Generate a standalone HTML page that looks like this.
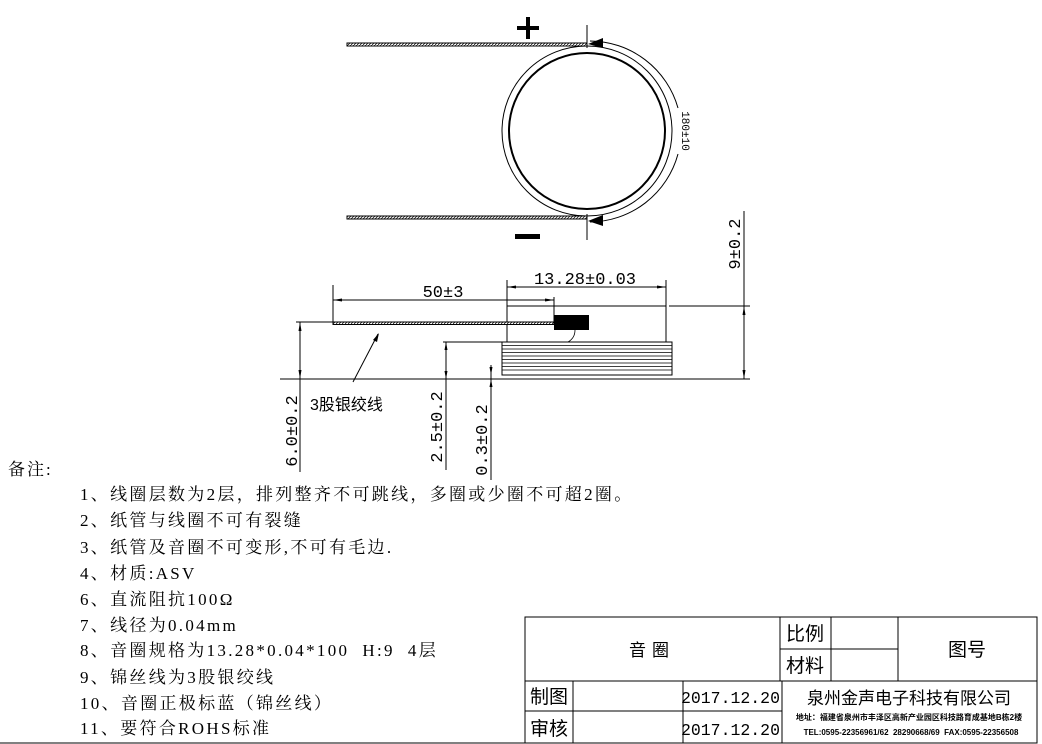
<!DOCTYPE html>
<html><head><meta charset="utf-8"><style>
html,body{margin:0;padding:0;background:#fff;}
svg{display:block;}
text{font-family:"Liberation Mono","Noto Serif CJK SC",monospace;fill:#000;}
.n{font-family:"Liberation Serif","Noto Serif CJK SC",serif;}
.s{font-family:"Liberation Sans","Noto Sans CJK SC",sans-serif;}
</style></head><body>
<svg width="1042" height="744" viewBox="0 0 1042 744" xmlns="http://www.w3.org/2000/svg">
<defs>
<pattern id="h" width="3" height="3" patternUnits="userSpaceOnUse"><rect width="3" height="3" fill="#fff"/><path d="M0 3L3 0" stroke="#000" stroke-width="0.7"/></pattern>
</defs>
<g stroke="#000" fill="none" stroke-width="1">
<rect x="347" y="43" width="240" height="3" fill="url(#h)"/>
<rect x="347" y="216" width="240" height="3" fill="url(#h)"/>
<line x1="587" y1="25" x2="587" y2="48"/>
<line x1="587" y1="214" x2="587" y2="240"/>
<circle cx="587" cy="131" r="85"/>
<circle cx="587" cy="131" r="78" stroke-width="2"/>
<path d="M590 41 A92 92 0 0 1 678 108"/>
<path d="M678 154 A92 92 0 0 1 590 222"/>
<line x1="333" y1="300" x2="554" y2="300"/>
<line x1="507" y1="287" x2="666" y2="287"/>
<line x1="333" y1="285" x2="333" y2="322"/>
<line x1="507" y1="280" x2="507" y2="342"/>
<line x1="666" y1="280" x2="666" y2="342"/>
<line x1="554" y1="297" x2="554" y2="322"/>
<line x1="507" y1="306" x2="666" y2="306"/>
<rect x="333" y="322" width="221" height="2.5" fill="url(#h)"/>
<rect x="502" y="342" width="170" height="33" fill="#fff"/>
<path d="M502 345.5H672M502 349H672M502 352.5H672M502 356H672M502 359.5H672M502 363H672M502 366.5H672M502 370H672" stroke-width="0.7"/>
<path d="M575 330 Q575 338 568 342" stroke-width="0.8"/>
<line x1="280" y1="379" x2="750" y2="379"/>
<line x1="669" y1="306" x2="750" y2="306"/>
<line x1="296" y1="322" x2="333" y2="322"/>
<line x1="744" y1="211" x2="744" y2="379"/>
<line x1="300" y1="322" x2="300" y2="472"/>
<line x1="443" y1="342" x2="502" y2="342"/>
<line x1="446" y1="342" x2="446" y2="470"/>
<line x1="491" y1="365" x2="491" y2="480"/>
<line x1="353" y1="382" x2="378" y2="334"/>
<rect x="525" y="617" width="512" height="126"/>
<line x1="525" y1="681" x2="1037" y2="681"/>
<line x1="525" y1="711" x2="782" y2="711"/>
<line x1="780" y1="617" x2="780" y2="681"/>
<line x1="831" y1="617" x2="831" y2="681"/>
<line x1="898" y1="617" x2="898" y2="681"/>
<line x1="780" y1="649" x2="898" y2="649"/>
<line x1="573" y1="681" x2="573" y2="743"/>
<line x1="683" y1="681" x2="683" y2="743"/>
<line x1="782" y1="681" x2="782" y2="743"/>
<line x1="0" y1="743" x2="525" y2="743"/>
</g>
<rect x="554" y="315" width="35" height="15" fill="#000"/>
<g fill="#000">
<rect x="517" y="26" width="22" height="4"/><rect x="526" y="17" width="4" height="22"/>
<rect x="515" y="234" width="25" height="5"/>
<path d="M588 44 L603 38 L603 48Z"/>
<path d="M588 221 L603 215 L603 226Z"/>
<path d="M333 300 L342 298.5 L342 301.5Z"/><path d="M554 300 L545 298.5 L545 301.5Z"/>
<path d="M507 287 L516 285.5 L516 288.5Z"/><path d="M666 287 L657 285.5 L657 288.5Z"/>
<path d="M744 306 L742.5 315 L745.5 315Z"/><path d="M744 379 L742.5 370 L745.5 370Z"/>
<path d="M300 322 L298.5 331 L301.5 331Z"/><path d="M300 379 L298.5 370 L301.5 370Z"/>
<path d="M446 342 L444.5 350 L447.5 350Z"/><path d="M446 379 L444.5 371 L447.5 371Z"/>
<path d="M491 375 L489.5 367 L492.5 367Z"/><path d="M491 379 L489.5 387 L492.5 387Z"/>
<path d="M379 333 L373 340 L377 342Z"/>
</g>
<text x="682" y="131" font-size="11" transform="rotate(90 682 131)" text-anchor="middle">180±10</text>
<text x="443" y="297" font-size="17" text-anchor="middle">50±3</text>
<text x="585" y="284" font-size="17" text-anchor="middle">13.28±0.03</text>
<text x="740" y="244" font-size="17" text-anchor="middle" transform="rotate(-90 740 244)">9±0.2</text>
<text x="297" y="431" font-size="17" text-anchor="middle" transform="rotate(-90 297 431)">6.0±0.2</text>
<text x="442" y="427" font-size="17" text-anchor="middle" transform="rotate(-90 442 427)">2.5±0.2</text>
<text x="487" y="440" font-size="17" text-anchor="middle" transform="rotate(-90 487 440)">0.3±0.2</text>
<text x="310" y="410" font-size="16" class="s">3股银绞线</text>
<text x="8" y="475" font-size="17" letter-spacing="2" class="n">备注:</text>
<g font-size="17" letter-spacing="2.3" class="n">
<text x="80" y="500" class="n">1、线圈层数为2层，排列整齐不可跳线，多圈或少圈不可超2圈。</text>
<text x="80" y="526" class="n">2、纸管与线圈不可有裂缝</text>
<text x="80" y="553" class="n">3、纸管及音圈不可变形,不可有毛边.</text>
<text x="80" y="579" class="n">4、材质:ASV</text>
<text x="80" y="605" class="n">6、直流阻抗100Ω</text>
<text x="80" y="631" class="n">7、线径为0.04mm</text>
<text x="80" y="656" class="n" xml:space="preserve">8、音圈规格为13.28*0.04*100  H:9  4层</text>
<text x="80" y="683" class="n">9、锦丝线为3股银绞线</text>
<text x="80" y="709" class="n">10、音圈正极标蓝（锦丝线）</text>
<text x="80" y="734" class="n">11、要符合ROHS标准</text>
</g>
<g class="s">
<text x="652" y="656" font-size="17" text-anchor="middle" class="s" letter-spacing="6">音圈</text>
<text x="805" y="640" font-size="19" text-anchor="middle" class="s">比例</text>
<text x="805" y="672" font-size="19" text-anchor="middle" class="s">材料</text>
<text x="967" y="656" font-size="19" text-anchor="middle" class="s">图号</text>
<text x="549" y="703" font-size="19" text-anchor="middle" class="s">制图</text>
<text x="549" y="735" font-size="19" text-anchor="middle" class="s">审核</text>
<text x="909" y="704" font-size="17" text-anchor="middle" class="s">泉州金声电子科技有限公司</text>
<text x="909" y="720" font-size="8" text-anchor="middle" class="s" font-weight="bold">地址：福建省泉州市丰泽区高新产业园区科技路育成基地B栋2楼</text>
<text x="911" y="735" font-size="8" text-anchor="middle" class="s" font-weight="bold" xml:space="preserve">TEL:0595-22356961/62  28290668/69  FAX:0595-22356508</text>
</g>
<text x="780" y="703" font-size="16.5" text-anchor="end">2017.12.20</text>
<text x="780" y="735" font-size="16.5" text-anchor="end">2017.12.20</text>
</svg>
</body></html>
